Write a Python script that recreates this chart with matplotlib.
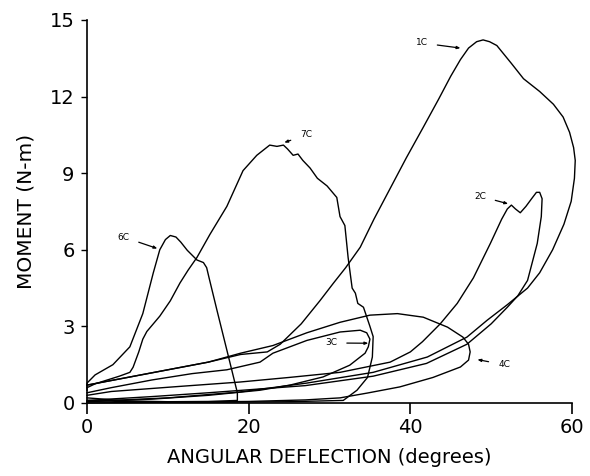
import numpy as np
import matplotlib.pyplot as plt

# ---------------------------------------------------------------
# Digitised hysteresis loops (deflection in degrees, moment in N-m)
# ---------------------------------------------------------------
c1_x = [0, 2, 5, 10, 15, 19, 22.3, 23.9, 25.2, 26.5, 28.8, 30.5, 32, 33.8,
        35.5, 37.5, 39.5, 41.6, 43.5, 45, 46.2, 47.2, 48.2, 49.0, 49.8,
        50.7, 52.5, 54, 56, 57.7, 58.9, 59.7, 60.2, 60.4, 60.3, 59.9, 59.0,
        57.6, 56, 54.5, 52, 49.5, 47, 42.1, 35.4, 27.2, 18.9, 10, 3, 0]
c1_y = [0.7, 0.82, 1.0, 1.3, 1.6, 1.9, 2.0, 2.3, 2.7, 3.1, 4.0, 4.7, 5.3, 6.1,
        7.2, 8.4, 9.6, 10.8, 11.9, 12.8, 13.45, 13.9, 14.15, 14.22, 14.15,
        14.0, 13.3, 12.7, 12.2, 11.7, 11.2, 10.6, 10.0, 9.5, 8.8, 7.9, 7.0,
        6.0, 5.1, 4.5, 3.85, 3.24, 2.58, 1.8, 1.2, 0.78, 0.43, 0.2, 0.1,
        0.05]

c2_x = [0, 3, 11.5, 18.9, 25, 31.3, 37.5, 40, 41.5, 43.7, 45.8, 47.8, 49.9,
        51.3, 52.0, 52.5, 53.0, 53.6, 54.3, 55.0, 55.6, 56.0, 56.3, 56.2,
        55.7, 54.5, 53.3, 52, 50, 47, 42, 35.4, 27, 21.4, 15, 8, 0]
c2_y = [0.3, 0.45, 0.65, 0.82, 1.0, 1.2, 1.6, 2.0, 2.4, 3.1, 3.9, 4.9, 6.25,
        7.2, 7.6, 7.75, 7.6, 7.45, 7.7, 8.0, 8.25, 8.25, 8.0, 7.3, 6.25,
        4.8, 4.2, 3.75, 3.1, 2.3, 1.55, 1.05, 0.68, 0.55, 0.4, 0.25, 0.1]

c3_x = [0, 3, 8, 13, 17.3, 21.4, 23, 27.2, 31.3, 33.8, 34.6, 35, 34.8, 34.4,
        32.5, 29.2, 25.1, 21.4, 15, 8, 0]
c3_y = [0.4, 0.6, 0.9, 1.15, 1.3, 1.6, 1.95, 2.45, 2.78, 2.85, 2.75, 2.5,
        2.2, 1.95, 1.48, 1.02, 0.7, 0.5, 0.3, 0.15, 0.05]

c4_x = [0, 5, 10, 15, 19, 23, 27.2, 31.3, 35, 38.4, 41.6, 44.6, 46.5, 47.2,
        47.4, 47.2, 46.2, 42.8, 38.7, 34.7, 31.3, 27, 20, 10, 0]
c4_y = [0.7, 1.0, 1.3, 1.6, 1.95, 2.25, 2.75, 3.16, 3.44, 3.5, 3.36, 2.97,
        2.58, 2.3, 2.0, 1.68, 1.41, 1.0, 0.63, 0.39, 0.2, 0.12, 0.06, 0.03,
        0.0]

c6_x = [0, 0, 1, 3.2, 5.3, 6.9, 8.2, 9, 9.7, 10.3, 11.0, 11.6, 12.4, 13.6,
        14.4, 14.8, 15.1, 16.1, 17.3, 18.6, 18.6, 15, 10, 5, 0]
c6_y = [0.5, 0.78, 1.1, 1.5, 2.2, 3.5, 5.1, 6.0, 6.4, 6.56, 6.5, 6.3, 5.98,
        5.6, 5.5, 5.3, 4.9, 3.6, 2.07, 0.4, 0.1, 0.06, 0.05, 0.08, 0.2]

c7_x = [0, 1, 2, 3, 4, 5.3, 5.7, 6.4, 6.9, 7.4, 8.2, 9, 10.3, 11.5, 12.5,
        13.6, 15.2, 17.3, 19.3, 21, 22, 22.6, 23.5, 24.3, 24.8, 25.5, 26.1,
        26.7, 27.6, 28.5, 29.7, 30.9, 31.3, 31.9, 32.3, 32.8, 33.2, 33.5,
        34.2, 35, 35.4, 35.3, 34.7, 33.4, 31.7, 25, 15, 5, 0]
c7_y = [0.6, 0.75, 0.85, 0.95, 1.05, 1.2, 1.4, 2.0, 2.5, 2.8, 3.1, 3.4, 4.0,
        4.7, 5.2, 5.7, 6.6, 7.7, 9.1, 9.7, 9.95, 10.1, 10.05, 10.1, 9.95,
        9.7, 9.75, 9.5, 9.2, 8.8, 8.5, 8.05, 7.3, 6.95, 5.7, 4.5, 4.3, 3.9,
        3.75, 3.0, 2.6, 1.8, 1.0, 0.5, 0.1, 0.05, 0.03, 0.05, 0.1]

curves = [(c1_x, c1_y), (c2_x, c2_y), (c3_x, c3_y), (c4_x, c4_y),
          (c6_x, c6_y), (c7_x, c7_y)]

# label text, text position, arrow target
labels = ["1C", "2C", "3C", "4C", "6C", "7C"]
label_xy = [(41.4, 14.1), (48.6, 8.1), (30.2, 2.35), (51.6, 1.5),
            (4.5, 6.5), (27.1, 10.5)]
arrow_to = [(46.2, 13.9), (52.1, 7.8), (34.8, 2.34), (48.3, 1.7),
            (8.7, 6.05), (24.4, 10.2)]

x_ticks = [0, 20, 40, 60]
y_ticks = [0, 3, 6, 9, 12, 15]

fig = plt.figure(figsize=(5.9, 4.76), dpi=100)
ax = fig.add_axes([0.1475, 0.1534, 0.822, 0.8046])

for x, y in curves:
    ax.plot(x, y, color="black", lw=1.0, clip_on=False,
            solid_joinstyle="round")

for lab, xy, tgt in zip(labels, label_xy, arrow_to):
    ax.annotate(lab, xy=tgt, xytext=xy, fontsize=6.5, ha="center",
                va="center",
                arrowprops=dict(arrowstyle="-|>,head_length=0.3,head_width=0.12",
                                color="black", lw=0.9, shrinkA=5, shrinkB=0))

ax.set_xlim(0, 60)
ax.set_ylim(0, 15)
ax.set_xticks(x_ticks)
ax.set_yticks(y_ticks)
ax.spines["top"].set_visible(False)
ax.spines["right"].set_visible(False)
ax.spines["left"].set_linewidth(1.2)
ax.spines["bottom"].set_linewidth(1.2)
ax.tick_params(axis="y", direction="out", length=4, width=1.0, pad=5,
               labelsize=14)
ax.tick_params(axis="x", direction="out", length=8, width=1.2, pad=3,
               labelsize=14)

ax.set_xlabel("ANGULAR DEFLECTION (degrees)", fontsize=14, labelpad=8)
ax.set_ylabel("MOMENT (N-m)", fontsize=14.5, labelpad=10)

fig.savefig("out.png", dpi=100)
